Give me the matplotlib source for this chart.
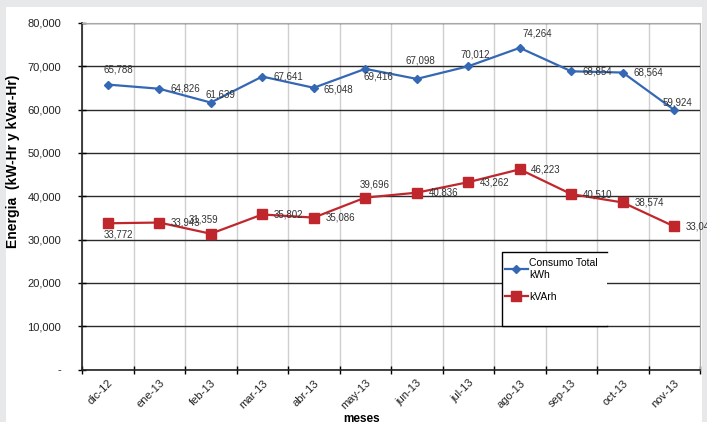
import matplotlib.pyplot as plt
from matplotlib.patches import Rectangle
from matplotlib.lines import Line2D
import numpy as np

plt.rcParams['font.family'] = ['Liberation Sans', 'DejaVu Sans']

meses = ['dic-12', 'ene-13', 'feb-13', 'mar-13', 'abr-13', 'may-13',
         'jun-13', 'jul-13', 'ago-13', 'sep-13', 'oct-13', 'nov-13']
consumo_kwh = [65788, 64826, 61639, 67641, 65048, 69416,
               67098, 70012, 74264, 68854, 68564, 59924]
kvarh = [33772, 33943, 31359, 35802, 35086, 39696,
         40836, 43262, 46223, 40510, 38574, 33046]

# label offsets in pixels (dx, dy, horizontal alignment)
off_kwh = [(11, 15, 'center'), (11, 0, 'left'), (-5, 8, 'left'), (11, 0, 'left'),
           (10, -2, 'left'), (13, -8, 'center'), (4, 18, 'center'), (7, 12, 'center'),
           (18, 14, 'center'), (11, 0, 'left'), (11, 0, 'left'), (3, 7, 'center')]
off_kvar = [(11, -11, 'center'), (11, 0, 'left'), (-7, 14, 'center'), (11, 0, 'left'),
            (12, 0, 'left'), (9, 13, 'center'), (12, 0, 'left'), (12, 0, 'left'),
            (11, 0, 'left'), (12, 0, 'left'), (12, 0, 'left'), (11, 0, 'left')]

W, H = 707, 422
fig = plt.figure(figsize=(W / 100, H / 100), dpi=100, facecolor='#e7e8ea')
fig.patches.append(Rectangle((6 / W, 0), 696 / W, 415 / H, transform=fig.transFigure,
                             facecolor='white', edgecolor='none', zorder=-10))

ax = fig.add_axes([82 / W, 52.4 / H, 618 / W, 346.6 / H])
ax.set_facecolor('none')

x = np.arange(len(meses))
blue = '#3568b4'
red = '#c0272d'
ax.plot(x, consumo_kwh, color=blue, lw=1.6, marker='D', ms=4.5, zorder=4,
        label='Consumo Total\nkWh')
ax.plot(x, kvarh, color=red, lw=1.6, marker='s', ms=6.5, zorder=4, label='kVArh')

for xi, v, (dx, dy, ha) in zip(x, consumo_kwh, off_kwh):
    ax.annotate(f'{v:,}', (xi, v), xytext=(dx * 0.72, dy * 0.72), textcoords='offset points',
                ha=ha, va='center', fontsize=7, color='#333333', zorder=5,
                annotation_clip=False)
for xi, v, (dx, dy, ha) in zip(x, kvarh, off_kvar):
    ax.annotate(f'{v:,}', (xi, v), xytext=(dx * 0.72, dy * 0.72), textcoords='offset points',
                ha=ha, va='center', fontsize=7, color='#333333', zorder=5,
                annotation_clip=False)

ax.set_xlim(-0.5, len(meses) - 0.5)
ax.set_ylim(0, 80000)
ax.set_yticks(np.arange(0, 80001, 10000))
ax.set_yticklabels(['-'] + [f'{v:,}' for v in range(10000, 80001, 10000)], fontsize=8,
                   color='#222222')
ax.set_xticks(x)
ax.set_xticklabels(meses, rotation=45, ha='right', rotation_mode='anchor', fontsize=8,
                   color='#222222')
ax.set_xticks(np.arange(-0.5, len(meses), 1), minor=True)
ax.tick_params(axis='x', which='major', length=0, pad=6)
ax.tick_params(axis='x', which='minor', length=6, direction='inout', width=1)
ax.tick_params(axis='y', length=6, direction='inout', width=1, pad=12)

ax.grid(axis='y', color='#2b2b2b', lw=1, zorder=1)
ax.grid(axis='x', which='minor', color='#cfcfcf', lw=1, zorder=1)
ax.set_axisbelow(True)
for s in ['top', 'right']:
    ax.spines[s].set_color('#a8a8a8')
for s in ['left', 'bottom']:
    ax.spines[s].set_color('#222222')
    ax.spines[s].set_linewidth(1.2)

ax.set_ylabel('Energia  (kW-Hr y kVar-Hr)', fontsize=10, fontweight='bold')
ax.yaxis.set_label_coords(-0.100, 0.602)
ax.set_xlabel('meses', fontsize=8.5, fontweight='bold')
ax.xaxis.set_label_coords(0.453, -0.125)

# legend box, open on the right side
lx0, lx1, ly0, ly1 = 502, 607, 252, 326
ax.add_patch(Rectangle((lx0 / W, 1 - ly1 / H), (lx1 - lx0) / W, (ly1 - ly0) / H,
                       transform=fig.transFigure, facecolor='white', edgecolor='none',
                       zorder=3, clip_on=False))
ax.add_line(Line2D([lx1 / W, lx0 / W, lx0 / W, lx1 / W],
                   [1 - ly0 / H, 1 - ly0 / H, 1 - ly1 / H, 1 - ly1 / H],
                   transform=fig.transFigure, color='black', lw=1, zorder=3, clip_on=False))
leg = ax.legend(loc='upper left', bbox_to_anchor=(505 / W, 1 - 258 / H),
                bbox_transform=fig.transFigure, frameon=False, fontsize=7.5,
                handlelength=2.2, handletextpad=0.1, labelspacing=1.2, borderaxespad=0,
                borderpad=0)
leg.set_zorder(6)

fig.savefig('out.png', dpi=100, facecolor=fig.get_facecolor())
